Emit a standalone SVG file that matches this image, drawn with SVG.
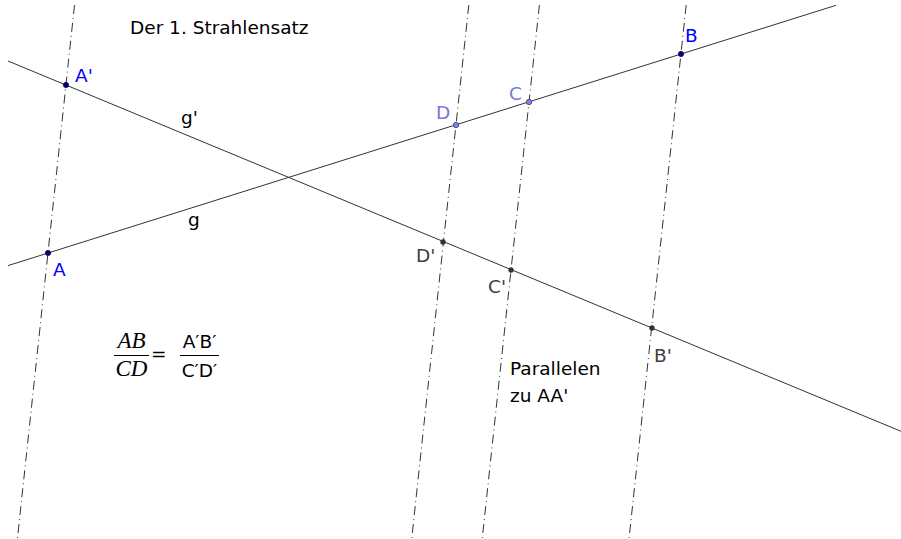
<svg xmlns="http://www.w3.org/2000/svg" width="901" height="539" viewBox="0 0 901 539">
<style>
.ln{stroke:#333;stroke-width:1;fill:none}
.pl{stroke:#333;stroke-width:1;fill:none;stroke-dasharray:9 4 1 4}
text{font-family:"DejaVu Sans",sans-serif;font-size:18.5px}
.blue{fill:#0000ff}
.purp{fill:#7878dc}
.gray{fill:#404040}
.blk{fill:#000}
.tex{font-family:"Liberation Serif","DejaVu Serif",serif;font-style:italic;font-size:23px}
</style>
<rect width="901" height="539" fill="#fff"/>
<g id="connectors">
<line class="ln" x1="8" y1="265.6" x2="836" y2="5.3"/>
<line class="ln" x1="8" y1="61" x2="901" y2="431.3"/>
<line class="pl" x1="74.5" y1="5" x2="17.4" y2="539"/>
<line class="pl" x1="468.8" y1="5" x2="411.7" y2="539"/>
<line class="pl" x1="539.4" y1="5" x2="482.2" y2="539"/>
<line class="pl" x1="686.2" y1="5" x2="629" y2="539"/>
</g>
<g id="title"><text class="blk" x="130" y="34">Der 1. Strahlensatz</text></g>
<g id="A"><circle cx="48" cy="253" r="2.7" fill="#00008b" stroke="#000" stroke-width="0.5"/><text class="blue" x="53" y="276">A</text></g>
<g id="Ap"><circle cx="66" cy="85" r="2.7" fill="#00008b" stroke="#000" stroke-width="0.5"/><text class="blue" x="75" y="82">A'</text></g>
<g id="B"><circle cx="681" cy="54" r="2.7" fill="#00008b" stroke="#000" stroke-width="0.5"/><text class="blue" x="685" y="42">B</text></g>
<g id="C"><circle cx="529" cy="102" r="2.7" fill="#7f7fff" stroke="#333" stroke-width="0.7"/><text class="purp" x="509" y="100">C</text></g>
<g id="D"><circle cx="456" cy="125" r="2.7" fill="#7f7fff" stroke="#333" stroke-width="0.7"/><text class="purp" x="436" y="119">D</text></g>
<g id="Dp"><circle cx="443" cy="242" r="2.7" fill="#333"/><text class="gray" x="416" y="262">D'</text></g>
<g id="Cp"><circle cx="511" cy="270" r="2.7" fill="#333"/><text class="gray" x="488" y="293">C'</text></g>
<g id="Bp"><circle cx="652" cy="328" r="2.7" fill="#333"/><text class="gray" x="654" y="362">B'</text></g>
<g id="gp"><text class="blk" x="181" y="124">g'</text></g>
<g id="g"><text class="blk" x="188" y="226">g</text></g>
<g id="parallel"><text class="blk" x="510" y="375">Parallelen</text><text class="blk" x="510" y="402">zu AA'</text></g>
<g id="formula">
<text class="tex" x="131.5" y="348" text-anchor="middle">AB</text>
<line x1="114" y1="355.5" x2="149" y2="355.5" stroke="#000" stroke-width="1"/>
<text class="tex" x="131.5" y="376" text-anchor="middle">CD</text>
<text class="blk" x="151" y="360">=</text>
<text class="blk" x="199.5" y="348" text-anchor="middle">A′B′</text>
<line x1="180" y1="355.5" x2="219" y2="355.5" stroke="#000" stroke-width="1"/>
<text class="blk" x="199.5" y="377" text-anchor="middle">C′D′</text>
</g>
</svg>
